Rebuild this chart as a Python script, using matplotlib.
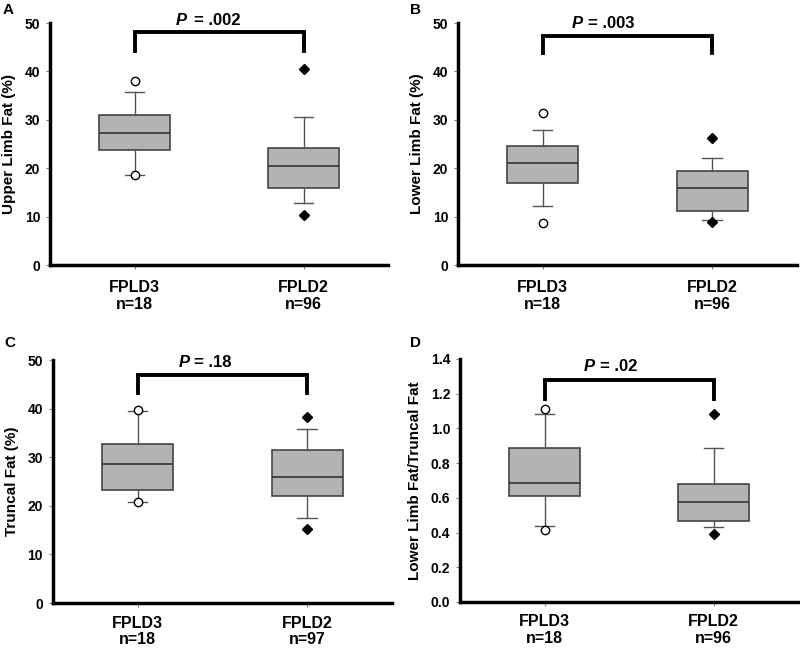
import matplotlib.pyplot as plt
from matplotlib.lines import Line2D

plt.rcParams['font.family'] = ['Liberation Sans', 'DejaVu Sans']
plt.rcParams['font.weight'] = 'bold'

groups = ['FPLD3', 'FPLD2']

# panel A - upper limb fat (%)
a_n = [18, 96]
a_q1 = [23.7, 15.9]
a_med = [27.3, 20.4]
a_q3 = [30.9, 24.1]
a_lo = [18.6, 12.8]
a_hi = [35.7, 30.5]
a_out = [[38.0, 18.5], [40.5, 10.3]]

# panel B - lower limb fat (%)
b_n = [18, 96]
b_q1 = [17.0, 11.1]
b_med = [21.0, 16.0]
b_q3 = [24.6, 19.4]
b_lo = [12.1, 9.2]
b_hi = [27.9, 22.2]
b_out = [[31.5, 8.6], [26.3, 8.8]]

# panel C - truncal fat (%)
c_n = [18, 97]
c_q1 = [23.3, 22.1]
c_med = [28.7, 26.0]
c_q3 = [32.8, 31.4]
c_lo = [20.8, 17.4]
c_hi = [39.6, 35.8]
c_out = [[39.7, 20.8], [38.3, 15.3]]

# panel D - lower limb fat / truncal fat
d_n = [18, 96]
d_q1 = [0.610, 0.464]
d_med = [0.684, 0.574]
d_q3 = [0.888, 0.682]
d_lo = [0.439, 0.431]
d_hi = [1.082, 0.886]
d_out = [[1.111, 0.416], [1.084, 0.393]]

panels = [
    ('A', a_n, a_q1, a_med, a_q3, a_lo, a_hi, a_out, 'Upper Limb Fat (%)', '.002', 50, 10, [48.1, 44.3, 50.6], '%d'),
    ('B', b_n, b_q1, b_med, b_q3, b_lo, b_hi, b_out, 'Lower Limb Fat (%)', '.003', 50, 10, [47.4, 43.8, 50.0], '%d'),
    ('C', c_n, c_q1, c_med, c_q3, c_lo, c_hi, c_out, 'Truncal Fat (%)', '.18', 50, 10, [46.9, 43.3, 49.4], '%d'),
    ('D', d_n, d_q1, d_med, d_q3, d_lo, d_hi, d_out, 'Lower Limb Fat/Truncal Fat', '.02', 1.4, 0.2, [1.277, 1.171, 1.355], '%.1f'),
]

# where the "P" starts and the gap to "= ..." (x data units)
p_x = [(1.245, 0.105), (1.17, 0.10), (1.24, 0.095), (1.23, 0.10)]

positions = [
    [0.0625, 0.591, 0.4225, 0.3735],
    [0.5725, 0.591, 0.4235, 0.3735],
    [0.066, 0.0694, 0.424, 0.375],
    [0.575, 0.071, 0.4225, 0.375],
]
letter_pos = [(0.003, 0.985), (0.512, 0.985), (0.006, 0.47), (0.512, 0.47)]

fig = plt.figure(figsize=(8, 6.48), dpi=100)

for i, (lab, n, q1, med, q3, lo, hi, out, ylab, p, ymax, step, br, fmt) in enumerate(panels):
    ax = fig.add_axes(positions[i])
    stats = []
    for k in range(2):
        stats.append({'med': med[k], 'q1': q1[k], 'q3': q3[k],
                      'whislo': lo[k], 'whishi': hi[k], 'fliers': []})
    ax.bxp(stats, positions=[1, 2], widths=0.42, patch_artist=True,
           showfliers=False, capwidths=0.115,
           boxprops=dict(facecolor='#b3b3b3', edgecolor='#454545', linewidth=1.2),
           medianprops=dict(color='#333333', linewidth=1.2),
           whiskerprops=dict(color='#555555', linewidth=1.0),
           capprops=dict(color='#555555', linewidth=1.0))
    ax.plot([1] * len(out[0]), out[0], 'o', mfc='white', mec='black', ms=6, mew=1.0, zorder=4)
    ax.plot([2] * len(out[1]), out[1], 'D', mfc='black', mec='black', ms=5.5, zorder=4)

    # significance bracket
    ax.add_line(Line2D([1, 1, 2, 2], [br[1], br[0], br[0], br[1]], color='black', lw=2.8,
                       clip_on=False, solid_joinstyle='miter'))
    ax.text(p_x[i][0], br[2], 'P', style='italic', fontsize=12, fontweight='bold', ha='left', va='center')
    ax.text(p_x[i][0] + p_x[i][1], br[2], '= ' + p, fontsize=12, fontweight='bold', ha='left', va='center')

    ax.set_xlim(0.5, 2.5)
    ax.set_ylim(0, ymax)
    nt = int(round(ymax / step))
    ticks = [step * t for t in range(nt + 1)]
    ax.set_yticks(ticks)
    ax.set_yticklabels([fmt % t for t in ticks], fontsize=10, fontweight='bold')
    ax.set_xticks([1, 2])
    ax.set_xticklabels([groups[k] + '\nn=%d' % n[k] for k in range(2)], fontsize=11.5,
                       fontweight='bold', linespacing=1.1)
    ax.tick_params(axis='both', length=3, width=0.6, color='#666666')
    ax.tick_params(axis='x', pad=8 if i < 2 else 6)
    ax.tick_params(axis='y', pad=4)
    for s in ['top', 'right']:
        ax.spines[s].set_visible(False)
    for s in ['left', 'bottom']:
        ax.spines[s].set_linewidth(2.5)
    ax.set_ylabel(ylab, fontsize=11, fontweight='bold', labelpad=6)
    fig.text(letter_pos[i][0], letter_pos[i][1], lab, fontsize=11, fontweight='bold', ha='left', va='center')

fig.savefig('out.png', dpi=100)
